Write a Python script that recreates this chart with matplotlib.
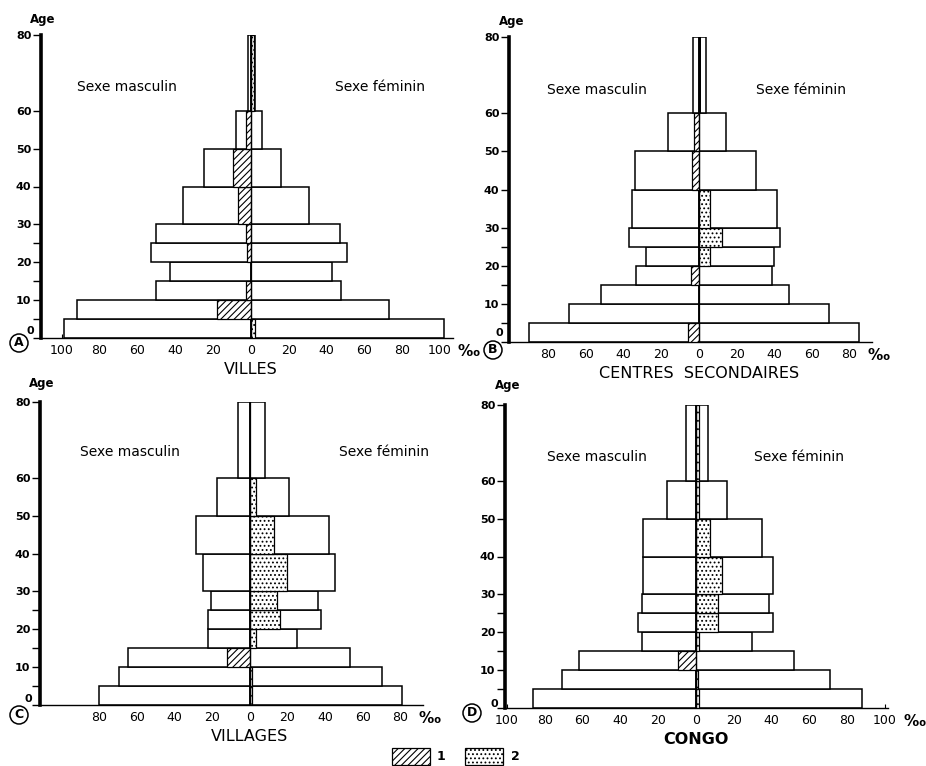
import matplotlib.pyplot as plt

plt.rcParams['font.family'] = ['DejaVu Sans']
plt.rcParams['hatch.linewidth'] = 0.8

# classes d'age
age_start = [0, 5, 10, 15, 20, 25, 30, 40, 50, 60]
age_end = [5, 10, 15, 20, 25, 30, 40, 50, 60, 80]

# A - Villes (pour mille)
villes_m = [99, 92, 50, 43, 53, 50, 36, 25, 8, 1.5]
villes_f = [102, 73, 48, 43, 51, 47, 31, 16, 6, 2]
villes_m1 = [0, 18, 2.5, 0, 2, 2.5, 7, 9.5, 2.5, 0]
villes_f2 = [2, 0, 0, 0, 0, 0, 0, 0, 0, 1.5]

# B - Centres secondaires
centres_m = [90.5, 69, 52, 33.5, 28, 37, 35.5, 34, 16.5, 3]
centres_f = [85, 69, 48, 39, 40, 43, 41.5, 30.5, 14.5, 3.5]
centres_m1 = [6, 0, 0, 4, 0, 0, 0, 3.5, 2.5, 0]
centres_f2 = [0, 0, 0, 0, 6, 12, 6, 0, 0, 0]

# C - Villages
villages_m = [80, 69.5, 65, 22, 22, 20.5, 25, 28.7, 17.3, 6.5]
villages_f = [81, 70, 53, 25, 37.7, 36, 45, 42, 20.7, 8.3]
villages_m1 = [0, 0, 12.4, 0, 0, 0, 0, 0, 0, 0]
villages_f2 = [1.4, 1.4, 0, 3.5, 16, 14.5, 20, 13, 3.2, 0]

# D - Congo
congo_m = [86.4, 71, 62, 28.7, 30.5, 28.4, 28.2, 28.2, 15.2, 5.3]
congo_f = [87.7, 71, 52, 29.6, 41, 38.8, 41, 35, 16.6, 6.5]
congo_m1 = [0, 0, 9.7, 0, 0, 0, 0, 0, 0, 0]
congo_f2 = [1.8, 1, 0, 1.5, 11.5, 11.5, 13.6, 7.4, 1.5, 1.8]

W, H = 926, 766
fig = plt.figure(figsize=(W / 100, H / 100), dpi=100)


def px(x, y):
    return x / W, 1 - y / H


def make_axes(left, right, top, bottom):
    l, b = px(left, bottom)
    r, t = px(right, top)
    return fig.add_axes([l, b, r - l, t - b])


def pyramid(ax, m, f, m1, f2, xlim, ticks, title, title_kw):
    heights = [e - s for s, e in zip(age_start, age_end)]
    ax.barh(age_start, [-v for v in m], height=heights, align='edge',
            facecolor='white', edgecolor='black', linewidth=1.1, zorder=2)
    ax.barh(age_start, f, height=heights, align='edge',
            facecolor='white', edgecolor='black', linewidth=1.1, zorder=2)
    for y, h, v in zip(age_start, heights, m1):
        if v > 0:
            ax.barh(y, -v, height=h, align='edge', facecolor='white',
                    edgecolor='black', hatch='/////', linewidth=0.9, zorder=3)
    for y, h, v in zip(age_start, heights, f2):
        if v > 0:
            ax.barh(y, v, height=h, align='edge', facecolor='white',
                    edgecolor='black', hatch='....', linewidth=0.9, zorder=3)
    ax.plot([0, 0], [0, 80], color='black', lw=0.9, zorder=4)

    ax.set_xlim(xlim)
    ax.set_ylim(0, 80)
    for s in ['top', 'right']:
        ax.spines[s].set_visible(False)
    ax.spines['left'].set_linewidth(2.6)
    ax.spines['bottom'].set_linewidth(1.0)
    ax.set_yticks([0, 10, 20, 30, 40, 50, 60, 80])
    ax.set_yticklabels(['', '10', '20', '30', '40', '50', '60', '80'])
    ax.set_yticks([5, 15, 25], minor=True)
    ax.tick_params(axis='y', which='both', direction='out', length=6,
                   width=1, labelsize=8, pad=1)
    for lab in ax.get_yticklabels():
        lab.set_fontweight('bold')
    ax.set_xticks(ticks)
    ax.set_xticklabels([str(abs(t)) for t in ticks])
    ax.tick_params(axis='x', direction='in', length=3, width=0.8,
                   labelsize=9, pad=4)
    ax.annotate('‰', xy=(ticks[-1], 0), xycoords=('data', 'axes fraction'),
                xytext=(13, -4), textcoords='offset points',
                ha='left', va='top', fontsize=11, fontweight='bold')
    ax.patch.set_visible(False)
    ax.annotate(title, xy=(0, 0), xycoords=('data', 'axes fraction'),
                xytext=(0, -17), textcoords='offset points',
                ha='center', va='top', fontsize=11.5, **title_kw)


ax_a = make_axes(41, 453, 35, 338)
pyramid(ax_a, villes_m, villes_f, villes_m1, villes_f2, (-111, 107),
        list(range(-100, 101, 20)), 'VILLES', {})
ax_b = make_axes(509, 872, 37, 342)
pyramid(ax_b, centres_m, centres_f, centres_m1, centres_f2, (-101, 92),
        list(range(-80, 81, 20)), 'CENTRES  SECONDAIRES', {})
ax_c = make_axes(40, 423, 402, 705)
pyramid(ax_c, villages_m, villages_f, villages_m1, villages_f2, (-111.5, 92),
        list(range(-80, 81, 20)), 'VILLAGES', {})
ax_d = make_axes(505, 888, 405, 708)
pyramid(ax_d, congo_m, congo_f, congo_m1, congo_f2, (-101, 101.6),
        list(range(-100, 101, 20)), 'CONGO', {'fontweight': 'bold'})

# trait plein au sommet de B
ax_b.barh(60, 1.2, height=20, align='edge', color='black', zorder=4)

# Age, 0, lettres entourees
panel_text = [('A', (43, 20), (30, 331), (19, 343)),
              ('B', (512, 21), (499, 333), (493, 350)),
              ('C', (42, 383), (28, 699), (19, 715)),
              ('D', (508, 385), (494, 704), (472, 713))]
for letter, age_xy, zero_xy, let_xy in panel_text:
    fig.text(*px(*age_xy), 'Age', ha='center', va='center', fontsize=8.5,
             fontweight='bold')
    fig.text(*px(*zero_xy), '0', ha='center', va='center', fontsize=8,
             fontweight='bold')
    fig.text(*px(*let_xy), letter, ha='center', va='center', fontsize=9,
             fontweight='bold',
             bbox=dict(boxstyle='circle,pad=0.2', fc='white', ec='black', lw=1.1))

# Sexe masculin / Sexe feminin
labels_pos = [((127, 87), (380, 87)), ((597, 90), (801, 90)),
              ((130, 452), (384, 452)), ((597, 457), (799, 457))]
for (mx, my), (fx, fy) in labels_pos:
    fig.text(*px(mx, my), 'Sexe masculin', ha='center', va='center', fontsize=10)
    fig.text(*px(fx, fy), 'Sexe féminin', ha='center', va='center', fontsize=10)

# legende
leg = fig.add_axes([0, 0, 1, 1])
leg.set_xlim(0, W)
leg.set_ylim(H, 0)
leg.axis('off')
leg.bar(411, 17, width=38, bottom=748, facecolor='white', edgecolor='black',
        hatch='/////', linewidth=0.9)
leg.text(437, 757, '1', ha='left', va='center', fontsize=9, fontweight='bold')
leg.bar(484, 17, width=38, bottom=748, facecolor='white', edgecolor='black',
        hatch='....', linewidth=0.9)
leg.text(511, 757, '2', ha='left', va='center', fontsize=9, fontweight='bold')

fig.savefig('out.png', dpi=100)
